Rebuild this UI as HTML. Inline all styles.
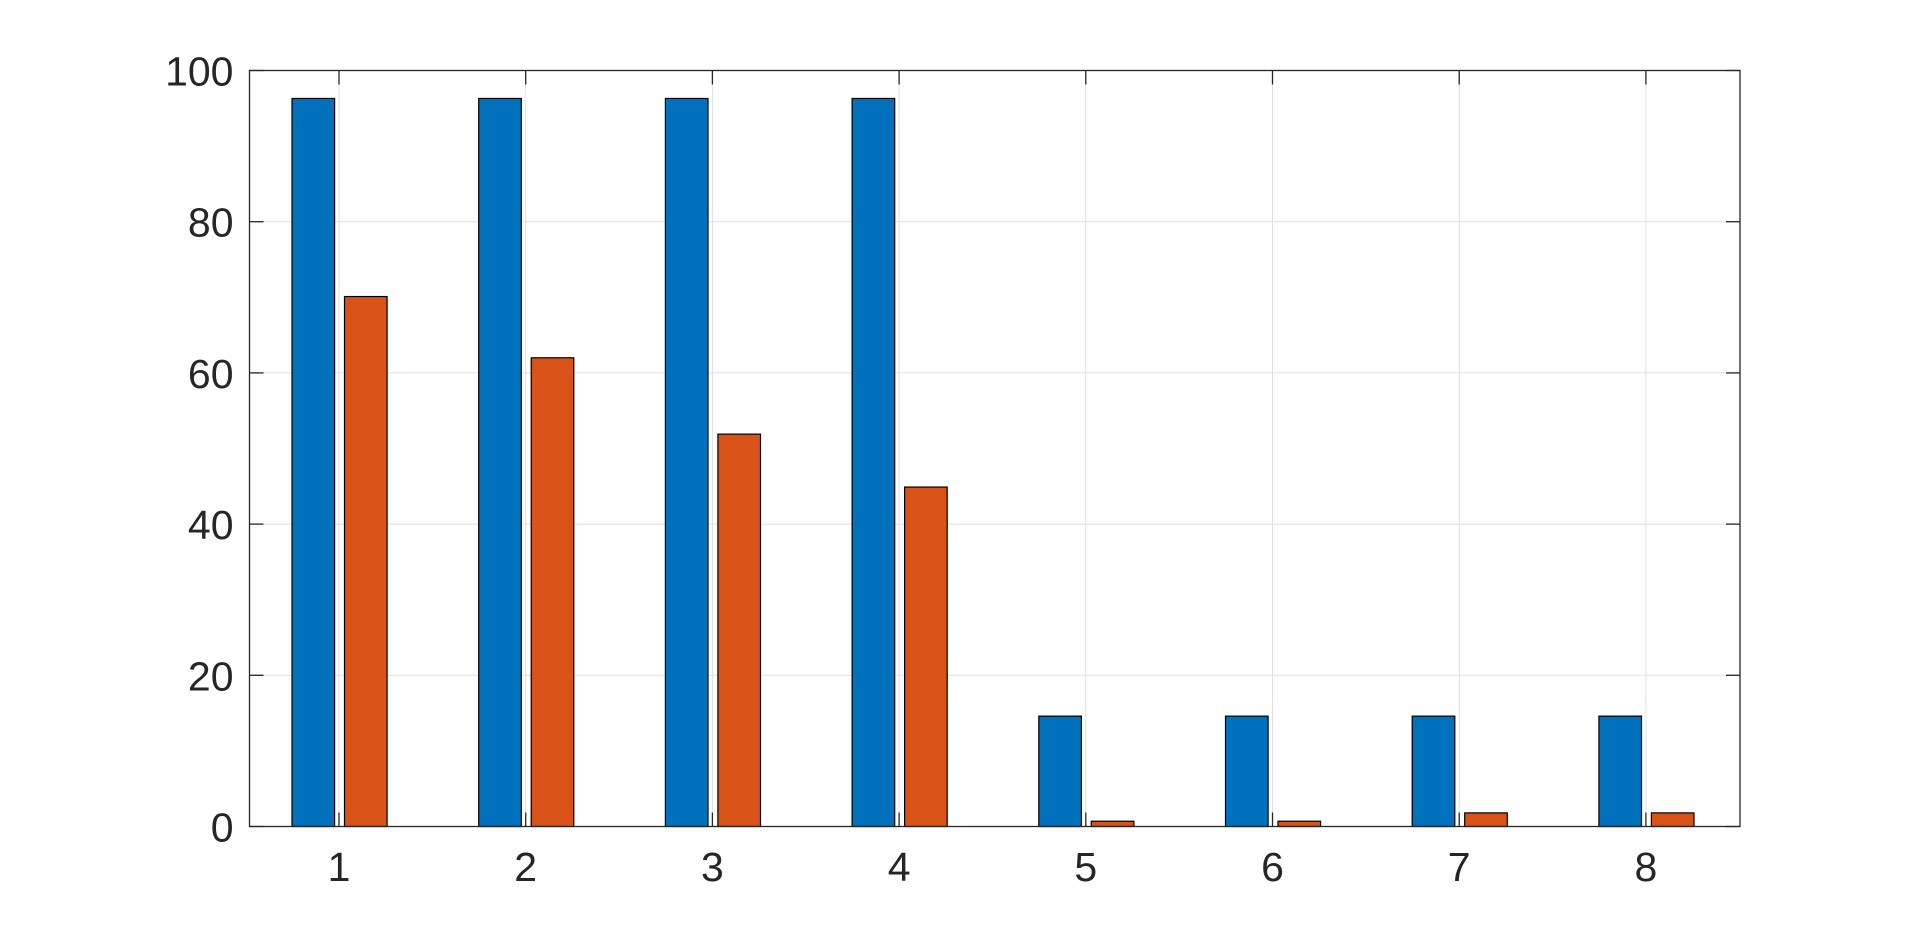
<!DOCTYPE html>
<html><head><meta charset="utf-8"><style>
html,body{margin:0;padding:0;background:#fff;}
svg{display:block;font-family:"Liberation Sans",Arial,sans-serif;}
</style></head><body>
<svg id="chart" width="1918" height="929" viewBox="0 0 1918 929" xmlns="http://www.w3.org/2000/svg">
<rect width="1918" height="929" fill="#fff"/>
<g id="grid"></g>
<g id="bars"></g>
<g id="axes"></g>
</svg>
<script>
const categories = [1, 2, 3, 4, 5, 6, 7, 8];
const seriesA = [96.3, 96.3, 96.3, 96.3, 14.6, 14.6, 14.6, 14.6];
const seriesB = [70.1, 62.0, 51.9, 44.9, 0.7, 0.7, 1.8, 1.8];
const yTicks = [0, 20, 40, 60, 80, 100];

const L = 249.5, R = 1740, T = 70.5, B = 826.5;
const yMin = 0, yMax = 100;
const x0 = 339, xStep = 186.7;
function xs(c){ return x0 + (c - 1) * xStep; }
function ys(v){ return B - (v - yMin) / (yMax - yMin) * (B - T); }
const NS = "http://www.w3.org/2000/svg";
function mk(tag, attrs, parent){
  const e = document.createElementNS(NS, tag);
  for (const k in attrs) e.setAttribute(k, attrs[k]);
  parent.appendChild(e); return e;
}
const grid = document.getElementById('grid');
const bars = document.getElementById('bars');
const axes = document.getElementById('axes');

yTicks.forEach(t => {
  const g = mk('line', {x1:L, x2:R, y1:ys(t), y2:ys(t), stroke:'#dfdfdf', 'stroke-width':1}, grid);
  
  
});
categories.forEach(c => {
  const g = mk('line', {x1:xs(c), x2:xs(c), y1:T, y2:B, stroke:'#dfdfdf', 'stroke-width':1}, grid);
  
  
});

const bw = 42.6;
categories.forEach((c, i) => {
  const a = mk('rect', {x:xs(c) - 47, y:ys(seriesA[i]), width:bw, height:ys(0) - ys(seriesA[i]), fill:'#0072bd', stroke:'#000', 'stroke-width':1.2}, bars);
  
  
  const b = mk('rect', {x:xs(c) + 5.5, y:ys(seriesB[i]), width:bw, height:ys(0) - ys(seriesB[i]), fill:'#d95319', stroke:'#000', 'stroke-width':1.2}, bars);
  
  
});

const box = mk('rect', {x:L, y:T, width:R - L, height:B - T, fill:'none', stroke:'#262626', 'stroke-width':1.3}, axes);



yTicks.forEach(t => {
  const y = ys(t);
  mk('line', {x1:L, x2:L + 14, y1:y, y2:y, stroke:'#262626', 'stroke-width':1.3}, axes);
  mk('line', {x1:R - 14, x2:R, y1:y, y2:y, stroke:'#262626', 'stroke-width':1.3}, axes);
  const tx = mk('text', {x:L - 16, y:y + 15, 'text-anchor':'end', 'font-size':41, fill:'#262626'}, axes);
  tx.textContent = t;
  
  
});
categories.forEach(c => {
  const x = xs(c);
  mk('line', {x1:x, x2:x, y1:B, y2:B - 14, stroke:'#262626', 'stroke-width':1.3}, axes);
  mk('line', {x1:x, x2:x, y1:T, y2:T + 14, stroke:'#262626', 'stroke-width':1.3}, axes);
  const tx = mk('text', {x:x, y:881, 'text-anchor':'middle', 'font-size':41, fill:'#262626'}, axes);
  tx.textContent = c;
  
  
});
</script>
</body></html>
